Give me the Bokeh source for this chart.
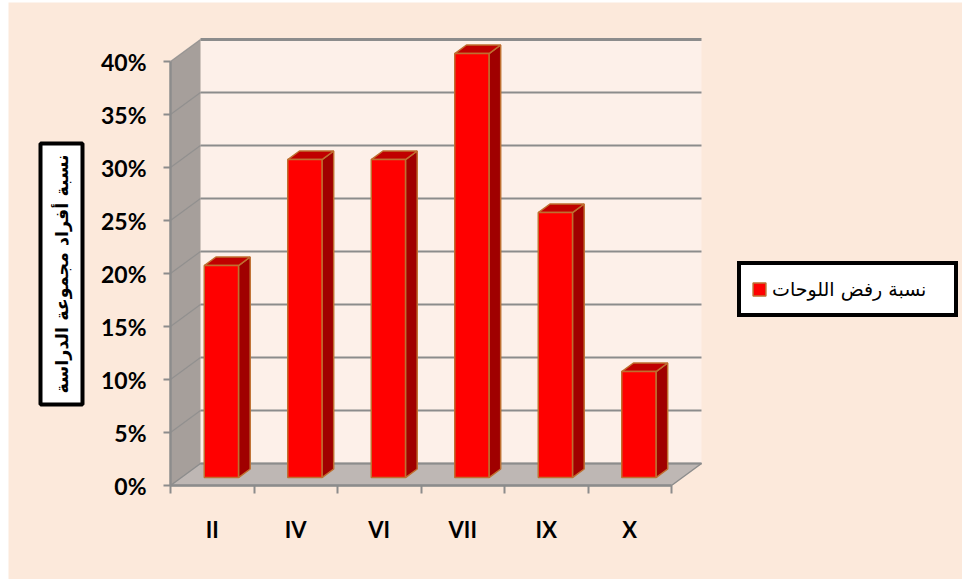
from math import pi

from bokeh.embed import file_html
from bokeh.models import (FixedTicker, Label, Legend, LegendItem,
                          NumeralTickFormatter, Range1d)
from bokeh.plotting import figure
from bokeh.resources import INLINE

# ---- data -------------------------------------------------------------
categories = ["II", "IV", "VI", "VII", "IX", "X"]
rejection_share = [0.20, 0.30, 0.30, 0.40, 0.25, 0.10]
y_ticks = [0.0, 0.05, 0.10, 0.15, 0.20, 0.25, 0.30, 0.35, 0.40]
series_name = "نسبة رفض اللوحات"
y_title = "نسبة أفراد مجموعة الدراسة"

# ---- colours ----------------------------------------------------------
PAGE_BG = "#FCE9DB"
WALL_BG = "#FDF0E9"
SIDE_WALL = "#A69F9B"
FLOOR = "#BEB7B4"
GRID = "#8C8C8C"
BAR_FRONT = "#FF0000"
BAR_SIDE = "#A00000"
BAR_TOP = "#C00000"
BAR_EDGE = "#BF6F30"

# ---- geometry (canvas pixels -> data) ---------------------------------
W, H = 962, 579
ORIGIN_X, ORIGIN_Y = 170, 485      # where the front axes meet
PX_PER_CAT = 83.5
PX_PER_UNIT = 1060.0
n = len(categories)
y_max = y_ticks[-1]


def sx(px):
    return (px - ORIGIN_X) / PX_PER_CAT


def sy(py):
    return (ORIGIN_Y - py) / PX_PER_UNIT


# oblique projection of the depth axis (back wall offset)
DX = 30 / PX_PER_CAT
DY = 22 / PX_PER_UNIT
BAR_D0 = 0.36      # depth of the bars' front faces
BAR_DEPTH = 0.39   # depth of the bars themselves
BAR_W = 0.41
BAR_POS = 0.48

p = figure(width=W, height=H,
           x_range=Range1d(sx(0), sx(W)), y_range=Range1d(sy(H), sy(0)),
           output_backend="svg", toolbar_location=None, min_border=0,
           background_fill_color="white", border_fill_color="white",
           outline_line_color=None)
p.xgrid.visible = False
p.ygrid.visible = False

# chart area background (thin white rim on the left and top)
p.quad(left=[sx(8)], right=[sx(W)], bottom=[sy(H)], top=[sy(2)],
       fill_color=PAGE_BG, line_color=None)

# ---- walls and floor --------------------------------------------------
p.quad(left=[DX], right=[n + DX], bottom=[DY], top=[y_max + DY],
       fill_color=WALL_BG, line_color=None)
p.patch([0, DX, DX, 0], [0, DY, y_max + DY, y_max],
        fill_color=SIDE_WALL, line_color=None)
p.patch([0, n, n + DX, DX], [0, 0, DY, DY],
        fill_color=FLOOR, line_color=GRID, line_width=1.5)

# gridlines across the back wall and along the side wall
p.multi_line([[DX, n + DX] for t in y_ticks], [[t + DY, t + DY] for t in y_ticks],
             line_color=GRID, line_width=[2] * (len(y_ticks) - 1) + [3])
p.multi_line([[0, DX] for t in y_ticks[1:]], [[t, t + DY] for t in y_ticks[1:]],
             line_color=GRID, line_width=1.2, line_alpha=0.8)

# ---- 3-D columns ------------------------------------------------------
ox, oy = BAR_D0 * DX, BAR_D0 * DY
bx, by = BAR_DEPTH * DX, BAR_DEPTH * DY
lefts = [i + BAR_POS - BAR_W / 2 + ox for i in range(n)]
rights = [i + BAR_POS + BAR_W / 2 + ox for i in range(n)]
bottoms = [oy] * n
tops = [v + oy for v in rejection_share]

side_xs = [[r, r + bx, r + bx, r] for r in rights]
side_ys = [[b, b + by, t + by, t] for b, t in zip(bottoms, tops)]
top_xs = [[l, r, r + bx, l + bx] for l, r in zip(lefts, rights)]
top_ys = [[t, t, t + by, t + by] for t in tops]

p.patches(side_xs, side_ys, fill_color=BAR_SIDE, line_color=BAR_EDGE, line_width=1.5)
p.patches(top_xs, top_ys, fill_color=BAR_TOP, line_color=BAR_EDGE, line_width=1.5)
front = p.quad(left=lefts, right=rights, bottom=bottoms, top=tops,
               fill_color=BAR_FRONT, line_color=BAR_EDGE, line_width=1.5)

# ---- axes (pinned to the front edge of the floor) ---------------------
xa = p.xaxis[0]
xa.fixed_location = 0
xa.ticker = FixedTicker(ticks=[i + 0.5 for i in range(n)],
                        minor_ticks=list(range(n + 1)))
xa.major_label_overrides = {i + 0.5: c for i, c in enumerate(categories)}
xa.bounds = (0, n)
xa.axis_line_color = GRID
xa.axis_line_width = 2.5
xa.major_tick_line_color = None
xa.major_tick_out = 0
xa.major_tick_in = 0
xa.minor_tick_line_color = GRID
xa.minor_tick_line_width = 2
xa.minor_tick_out = 8
xa.minor_tick_in = 0
xa.major_label_standoff = 22
xa.major_label_text_font = "Lato"
xa.major_label_text_font_style = "bold"
xa.major_label_text_font_size = "22px"
xa.major_label_text_color = "black"

ya = p.yaxis[0]
ya.fixed_location = 0
ya.ticker = FixedTicker(ticks=y_ticks, minor_ticks=[])
ya.formatter = NumeralTickFormatter(format="0%")
ya.bounds = (0, y_max)
ya.axis_line_color = GRID
ya.axis_line_width = 2.5
ya.major_tick_line_color = GRID
ya.major_tick_line_width = 2
ya.major_tick_out = 7
ya.major_tick_in = 0
ya.minor_tick_line_color = None
ya.major_label_standoff = 17
ya.major_label_text_font = "Lato"
ya.major_label_text_font_style = "bold"
ya.major_label_text_font_size = "23px"
ya.major_label_text_color = "black"

# ---- boxed y title ----------------------------------------------------
p.add_layout(Label(x=sx(61), y=sy(273.5), text=y_title, angle=pi / 2,
                   text_align="center", text_baseline="middle",
                   text_font="DejaVu Sans", text_font_style="bold",
                   text_font_size="17.5px", text_color="black",
                   background_fill_color="white", border_line_color="black",
                   border_line_alpha=1, border_line_width=4, padding=11))

# ---- legend -----------------------------------------------------------
legend = Legend(items=[LegendItem(label=series_name, renderers=[front])],
                location=(737, H - 317),
                border_line_color="black", border_line_alpha=1,
                border_line_width=4,
                background_fill_color="white", background_fill_alpha=1,
                glyph_width=16, glyph_height=16, label_standoff=5,
                padding=10, label_width=172, label_height=28, margin=0,
                label_text_font="DejaVu Sans", label_text_font_size="19px",
                label_text_color="black")
p.add_layout(legend)

open("out.html", "w").write(file_html(p, INLINE))
